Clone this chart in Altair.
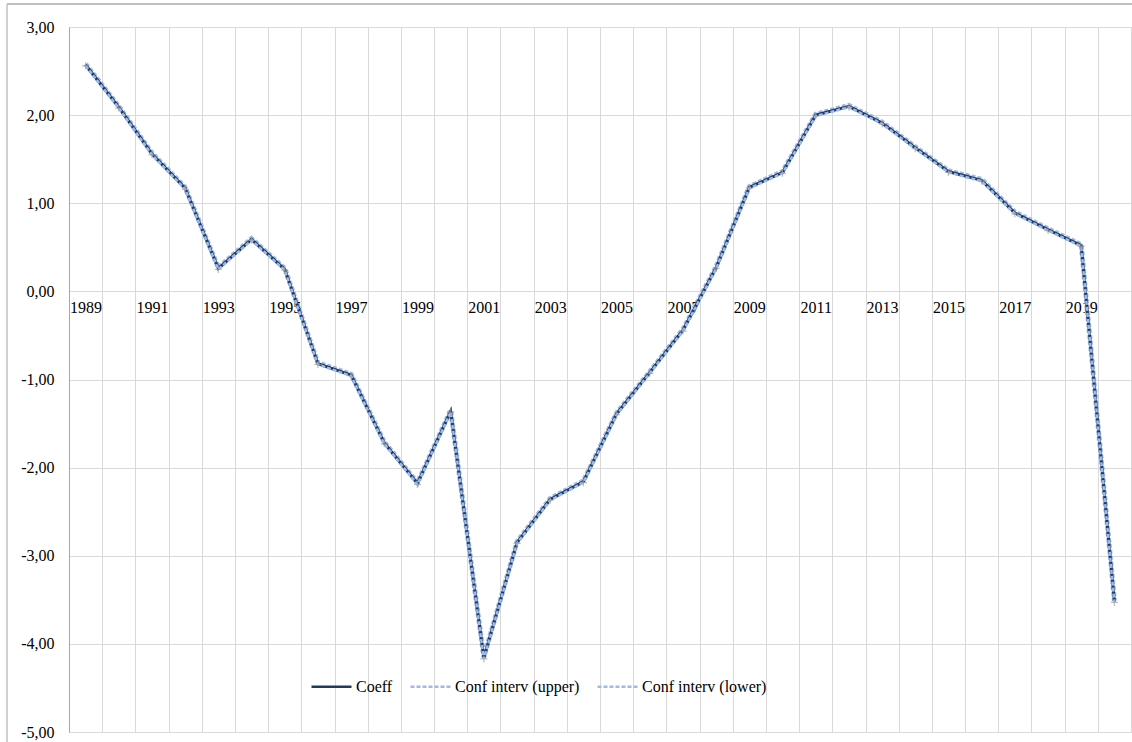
import altair as alt
import pandas as pd

years = list(range(1989, 2021))
coeff = [2.57, 2.09, 1.56, 1.17, 0.26, 0.59, 0.25, -0.82, -0.95, -1.72,
         -2.18, -1.36, -4.16, -2.85, -2.36, -2.16, -1.39, -0.92, -0.44, 0.27,
         1.18, 1.35, 2.00, 2.10, 1.91, 1.63, 1.36, 1.26, 0.89, 0.70,
         0.52, -3.52]
upper = [2.58, 2.10, 1.57, 1.18, 0.27, 0.60, 0.26, -0.81, -0.94, -1.71,
         -2.17, -1.35, -4.15, -2.84, -2.35, -2.15, -1.38, -0.91, -0.43, 0.28,
         1.19, 1.36, 2.01, 2.11, 1.92, 1.64, 1.37, 1.27, 0.90, 0.71,
         0.53, -3.51]
lower = [2.56, 2.08, 1.55, 1.16, 0.25, 0.58, 0.24, -0.83, -0.96, -1.73,
         -2.19, -1.37, -4.17, -2.86, -2.37, -2.17, -1.40, -0.93, -0.45, 0.26,
         1.17, 1.34, 1.99, 2.09, 1.90, 1.62, 1.35, 1.25, 0.88, 0.69,
         0.51, -3.53]
series_names = ["Coeff", "Conf interv (upper)", "Conf interv (lower)"]
label_years = list(range(1989, 2020, 2))
y_ticks = [-5, -4, -3, -2, -1, 0, 1, 2, 3]

rows = []
for name, vals in zip(series_names, [coeff, upper, lower]):
    for yr, v in zip(years, vals):
        rows.append({"year": yr, "value": v, "series": name})
df = pd.DataFrame(rows)

FONT = "Liberation Serif"
DARK = "#1f3864"
LIGHT = "#9dbbe6"
GRID = "#d9d9d9"

grid_vals = [y - 0.5 for y in range(1989, 2022)]

xscale = alt.Scale(domain=[1988.5, 2020.5], nice=False, zero=False)
yscale = alt.Scale(domain=[-5, 3], nice=False)

color_scale = alt.Scale(domain=series_names, range=[DARK, LIGHT, LIGHT])
dash_scale = alt.Scale(domain=series_names, range=[[1, 0], [4, 2], [4, 2]])

legend = alt.Legend(
    title=None, orient="none", legendX=241, legendY=638, direction="horizontal",
    symbolType="stroke", symbolSize=1600, symbolStrokeWidth=2.5,
    labelFont=FONT, labelFontSize=16, labelColor="#000000",
    columnPadding=12, labelOffset=3, symbolOffset=0,
)

y_axis = alt.Axis(
    values=y_ticks, grid=True, gridColor=GRID, gridWidth=1, ticks=False,
    domain=True, domainColor="#a6a6a6", labelFont=FONT, labelFontSize=16,
    labelColor="#000000", labelPadding=15, title=None,
    labelExpr="(datum.value < 0 ? '-' : '') + replace(format(abs(datum.value), '.2f'), '.', ',')",
)

base = alt.Chart(df)

# vertical gridlines at category boundaries (own axis, no labels)
grid_layer = base.mark_line(opacity=0).encode(
    x=alt.X("year:Q", scale=xscale,
            axis=alt.Axis(values=grid_vals, grid=True, gridColor=GRID, gridWidth=1,
                          labels=False, ticks=False, domain=False, title=None,
                          orient="top")),
    y=alt.Y("value:Q", scale=yscale, axis=y_axis),
)

label_axis = alt.Axis(values=label_years, grid=False, ticks=False, domain=False,
                      labelFont=FONT, labelFontSize=16, labelColor="#000000",
                      labelPadding=7, format="d", title=None, offset=-440,
                      orient="bottom", labelFlush=False, labelOverlap=False)

def line_layer(name, width, axis):
    return base.transform_filter(alt.datum.series == name).mark_line(strokeWidth=width).encode(
        x=alt.X("year:Q", scale=xscale, axis=axis),
        y=alt.Y("value:Q", scale=yscale, axis=y_axis),
        color=alt.Color("series:N", scale=color_scale, legend=legend),
        strokeDash=alt.StrokeDash("series:N", scale=dash_scale, legend=legend),
    )

upper_layer = line_layer("Conf interv (upper)", 5, label_axis)
coeff_layer = line_layer("Coeff", 3, None)
lower_layer = line_layer("Conf interv (lower)", 2.5, None)

marker_layer = base.transform_filter(alt.datum.series == "Conf interv (lower)").mark_point(
    shape="M-1,0L1,0M0,-1L0,1", size=50, filled=False, stroke="#a0a0a0", strokeWidth=1.2
).encode(
    x=alt.X("year:Q", scale=xscale, axis=None),
    y=alt.Y("value:Q", scale=yscale, axis=y_axis),
)

frame_top = alt.Chart(pd.DataFrame({"k": [0]})).mark_rule(color="#c0c0c0", strokeWidth=2).encode(
    x=alt.value(-62), x2=alt.value(1070), y=alt.value(-23)
)
frame_left = alt.Chart(pd.DataFrame({"k": [0]})).mark_rule(color="#c0c0c0", strokeWidth=1.5).encode(
    x=alt.value(-62), y=alt.value(-23), y2=alt.value(720)
)

chart = alt.layer(
    grid_layer, upper_layer, coeff_layer, lower_layer, marker_layer, frame_top, frame_left
).resolve_axis(x="independent").properties(
    width=1062, height=705,
    autosize=alt.AutoSizeParams(type="none"),
    padding={"left": 69, "top": 27, "right": 1, "bottom": 10},
).configure_view(stroke=None).configure(background="#ffffff")

chart.save("out.html", embed_options={"renderer": "svg", "actions": False})
